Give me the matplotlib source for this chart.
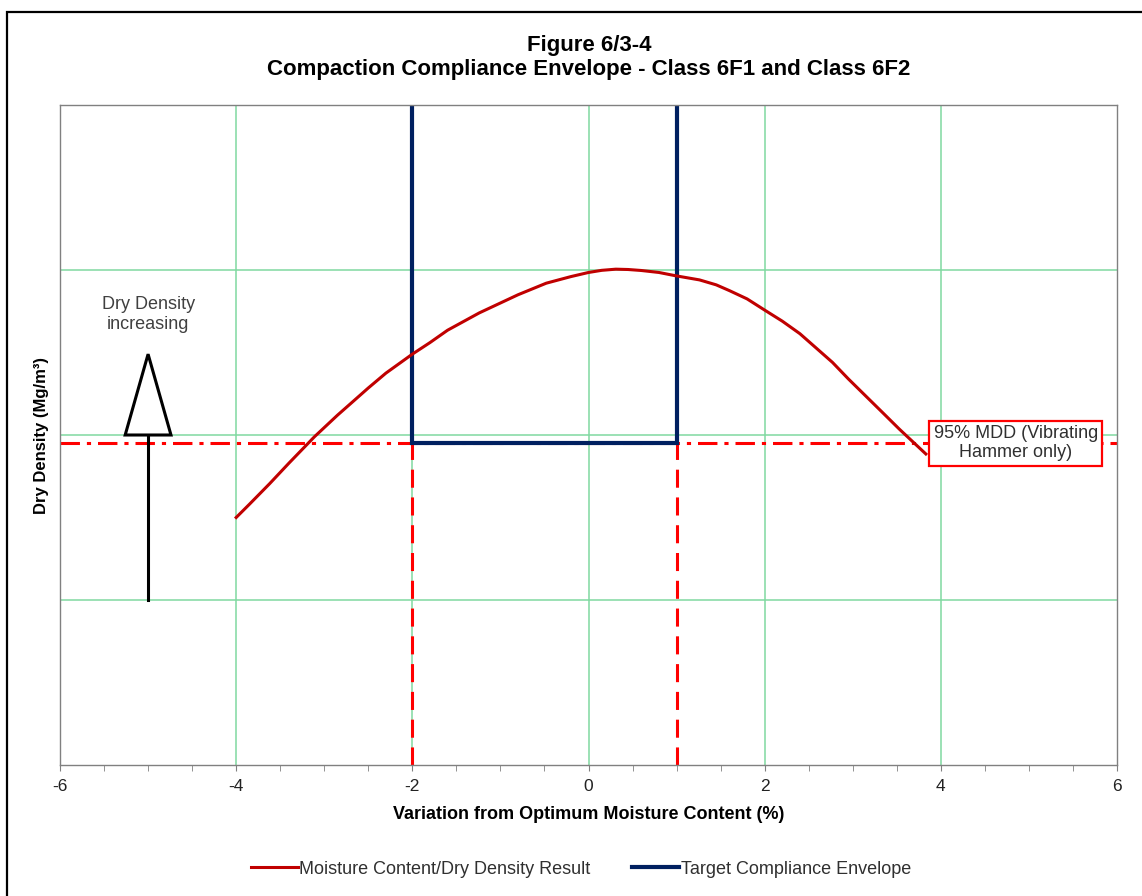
#!/usr/bin/env python3
"""
Compaction Compliance Envelope - Class 6F1 and Class 6F2
"""
import matplotlib
matplotlib.use("Agg")
import matplotlib.pyplot as plt
from matplotlib.patches import Rectangle, Polygon
from matplotlib.ticker import MultipleLocator

plt.rcParams['font.family'] = ['Liberation Sans', 'DejaVu Sans']
plt.rcParams['lines.scale_dashes'] = False
plt.rcParams['axes.unicode_minus'] = False

# ---------------------------------------------------------
# Data
# ---------------------------------------------------------
curve_x = [-4.0, -3.85, -3.62, -3.4, -3.11, -2.85, -2.68, -2.5, -2.30, -2.0,
           -1.8, -1.6, -1.24, -1.0, -0.8, -0.48, -0.2, 0.0, 0.15, 0.31,
           0.45, 0.6, 0.8, 0.99, 1.26, 1.45, 1.6, 1.8, 2.0, 2.2,
           2.40, 2.6, 2.77, 2.95, 3.15, 3.35, 3.53, 3.7, 3.83]
curve_y = [1.50, 1.58, 1.705, 1.83, 1.99, 2.12, 2.20, 2.285, 2.375, 2.49,
           2.56, 2.635, 2.74, 2.80, 2.85, 2.92, 2.96, 2.985, 2.998, 3.005,
           3.003, 2.997, 2.985, 2.965, 2.94, 2.91, 2.875, 2.825, 2.757, 2.69,
           2.614, 2.52, 2.44, 2.34, 2.235, 2.13, 2.035, 1.95, 1.885]

x_ticks = [-6, -4, -2, 0, 2, 4, 6]

env_x = [-2.0, -2.0, 1.0, 1.0]
env_y = [5.0, 1.95, 1.95, 5.0]

mdd_level = 1.95
moisture_limits = [-2.0, 1.0]

arrow_x = -5.0
arrow_base = 1.0
arrow_head_base = 2.0
arrow_tip = 2.49

# Colours
RED_CURVE = '#C00000'
NAVY = '#002060'
RED = '#FF0000'
GRID = '#80D8A0'
GREY = '#808080'

fig = plt.figure(figsize=(11.42, 8.96), dpi=100)
ax = fig.add_axes([60 / 1142, 131 / 896, 1057 / 1142, 660 / 896])

# grid
ax.set_xlim(-6, 6)
ax.set_ylim(0, 4)
ax.set_xticks(x_ticks)
ax.xaxis.set_minor_locator(MultipleLocator(0.5))
ax.set_yticks([1, 2, 3])
ax.grid(True, which='major', color=GRID, lw=1.1)
ax.set_axisbelow(True)
# no green lines on the frame edges
xt = ax.xaxis.get_major_ticks()
xt[0].gridline.set_visible(False)
xt[-1].gridline.set_visible(False)
ax.tick_params(axis='y', left=False, labelleft=False)
ax.tick_params(axis='x', which='both', direction='out', length=4, color=GREY,
               labelsize=12.5, labelcolor='#222222', pad=6)
for s in ax.spines.values():
    s.set_color(GREY)
    s.set_linewidth(1.0)
    s.set_zorder(10)

# 95% MDD line and moisture limits
ax.plot([-6, 6], [mdd_level, mdd_level], color=RED, lw=2.2,
        dashes=(14, 5, 3, 5), zorder=2)
for xv in moisture_limits:
    ax.plot([xv, xv], [0, mdd_level], color=RED, lw=2.2, dashes=(13, 7), zorder=2)

# envelope and curve
ax.plot(env_x, env_y, color=NAVY, lw=3.0, solid_joinstyle='miter',
        label='Target Compliance Envelope', zorder=3)
ax.plot(curve_x, curve_y, color=RED_CURVE, lw=2.2, solid_joinstyle='round',
        label='Moisture Content/Dry Density Result', zorder=4)

# arrow
ax.plot([arrow_x, arrow_x], [arrow_base, arrow_head_base], color='black', lw=2.2, zorder=5)
tri = Polygon([[arrow_x - 0.26, arrow_head_base], [arrow_x + 0.26, arrow_head_base],
               [arrow_x, arrow_tip]], closed=True, fc='white', ec='black', lw=2.2, zorder=5)
ax.add_patch(tri)
ax.text(arrow_x, 2.73, "Dry Density\nincreasing", ha='center', va='center',
        fontsize=13, color='#404040', linespacing=1.2)

ax.text(4.85, mdd_level, "95% MDD (Vibrating\nHammer only)", ha='center', va='center',
        fontsize=13, color='#303030', linespacing=1.15, zorder=6,
        bbox=dict(boxstyle='square,pad=0.25', fc='white', ec=RED, lw=1.6))

ax.set_xlabel("Variation from Optimum Moisture Content (%)", fontsize=13,
              fontweight='bold', labelpad=9)
ax.set_ylabel("Dry Density (Mg/m³)", fontsize=12, fontweight='bold', labelpad=8)

fig.text(589 / 1142, 1 - 45 / 896, "Figure 6/3-4", ha='center', va='center',
         fontsize=16, fontweight='bold')
fig.text(589 / 1142, 1 - 70 / 896,
         "Compaction Compliance Envelope - Class 6F1 and Class 6F2",
         ha='center', va='center', fontsize=16, fontweight='bold')

handles, labels = ax.get_legend_handles_labels()
fig.legend(handles[::-1], labels[::-1], loc='center', ncol=2,
           bbox_to_anchor=(581 / 1142, 27 / 896), frameon=False,
           fontsize=13, handlelength=2.6, handletextpad=0.1, columnspacing=2.3,
           labelcolor='#303030')

# outer border
fig.patches.append(Rectangle((7 / 1142, -0.1), 1.2, 1.1 - 12 / 896, fill=False,
                             ec='black', lw=1.6, transform=fig.transFigure))

fig.savefig("out.png", dpi=100)
